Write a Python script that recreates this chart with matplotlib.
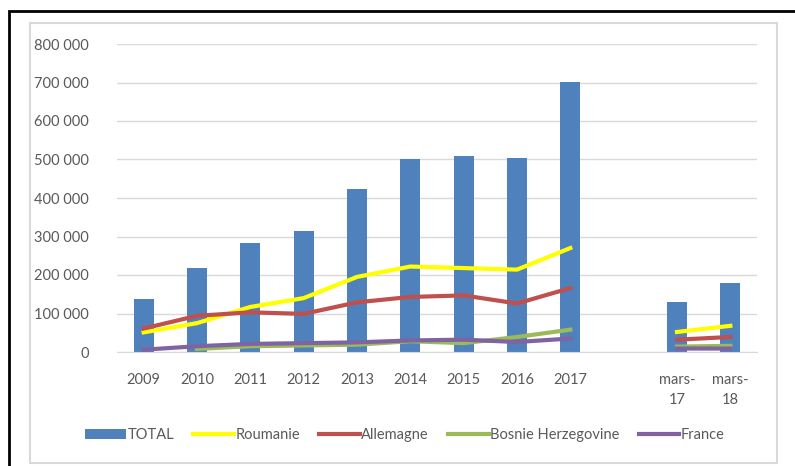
import numpy as np
import matplotlib.pyplot as plt
from matplotlib.patches import Rectangle

# categories (blank slot separates the yearly totals from the March figures)
categories = ['2009', '2010', '2011', '2012', '2013', '2014', '2015', '2016', '2017',
              '', 'mars-\n17', 'mars-\n18']
nan = np.nan
total = [137000, 219000, 284000, 315000, 424000, 501000, 509000, 504000, 701000,
         nan, 131000, 179000]
roumanie = [51000, 75000, 117000, 140000, 195000, 222000, 218000, 214000, 270000,
            nan, 52000, 68000]
allemagne = [61000, 94000, 103000, 99000, 129000, 143000, 147000, 126000, 166000,
             nan, 32000, 39000]
bosnie = [nan, 8000, 15000, 17000, 19000, 28000, 23000, 39000, 58000,
          nan, 14000, 16000]
france = [6000, 15000, 21000, 23000, 25000, 30000, 32000, 26000, 35000,
          nan, 9000, 9000]
yticks = [0, 100000, 200000, 300000, 400000, 500000, 600000, 700000, 800000]

plt.rcParams['font.family'] = ['Lato', 'DejaVu Sans']
grey = '#595959'
fs = 10.5

fig = plt.figure(figsize=(7.95, 4.66), dpi=100)
# outer black frame and inner grey chart box
fig.add_artist(Rectangle((9 / 795, -0.05), 1.0, 1 - 11 / 466 + 0.05, transform=fig.transFigure,
                         fill=False, ec='black', lw=2))
fig.add_artist(Rectangle((30 / 795, 3 / 466), 747 / 795, 440 / 466, transform=fig.transFigure,
                         fill=False, ec='#d9d9d9', lw=1.5))

ax = fig.add_axes([117 / 795, 1 - 352 / 466, 640 / 795, 308 / 466])
x = np.arange(len(categories))

bars = ax.bar(x, total, width=0.38, color='#4f81bd', label='TOTAL', zorder=2)
l1, = ax.plot(x, roumanie, color='#ffff00', lw=3, label='Roumanie', zorder=3)
l2, = ax.plot(x, allemagne, color='#c0504d', lw=3, label='Allemagne', zorder=3)
l3, = ax.plot(x, bosnie, color='#9bbb59', lw=3, label='Bosnie Herzegovine', zorder=3)
l4, = ax.plot(x, france, color='#8064a2', lw=3, label='France', zorder=3)

ax.set_xlim(-0.5, len(categories) - 0.5)
ax.set_ylim(0, 800000)
ax.set_yticks(yticks)
ax.set_yticklabels([f'{v:,}'.replace(',', ' ') for v in yticks], color=grey, fontsize=fs)
ax.set_xticks(x)
ax.set_xticklabels(categories, color=grey, fontsize=fs, linespacing=1.55, va='top')
ax.tick_params(axis='x', length=0, pad=15)
ax.tick_params(axis='y', length=0, pad=20)
ax.grid(axis='y', color='#d9d9d9', lw=1, zorder=0)
for s in ['top', 'right', 'left']:
    ax.spines[s].set_visible(False)
ax.spines['bottom'].set_color('#d9d9d9')

fig.legend([bars, l1, l2, l3, l4],
           ['TOTAL', 'Roumanie', 'Allemagne', 'Bosnie Herzegovine', 'France'],
           loc='center', bbox_to_anchor=(405 / 795, 1 - 435 / 466), ncol=5,
           frameon=False, fontsize=fs, handlelength=2.8, handletextpad=0.1,
           columnspacing=1.3, labelcolor=grey)

fig.savefig('out.png', dpi=100)
